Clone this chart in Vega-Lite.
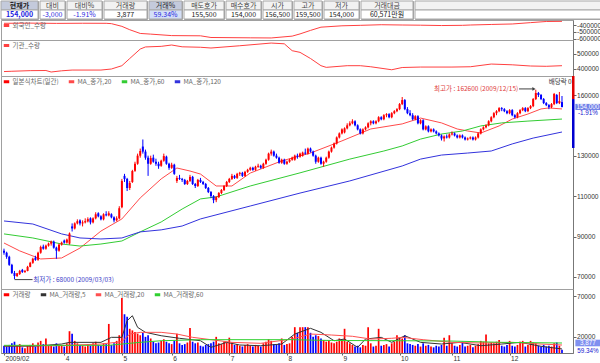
{
"$schema":"https://vega.github.io/schema/vega-lite/v6.json",
"padding":0,"autosize":{"type":"pad"},"spacing":-3,"background":"white",
"config":{
"view":{"stroke":"#a0a0a0","strokeWidth":1},
"axis":{"labelFont":"Liberation Sans","labelFontSize":6.6,"labelColor":"#333","tickColor":"#666","domainColor":"#777","tickSize":3,"labelPadding":0.5,"grid":false,"labelOverlap":false},
"legend":{"orient":"top-left","direction":"horizontal","offset":1,"padding":0,"labelFont":"Noto Sans CJK KR","labelFontSize":6.5,"labelColor":"#666","symbolType":"stroke","symbolStrokeWidth":3,"symbolSize":30,"columnPadding":3,"labelOffset":1.5},
"text":{"font":"Noto Sans CJK KR"}
},
"resolve":{"scale":{"x":"independent","y":"independent","color":"independent"},"legend":{"color":"independent"}},
"datasets":{
"k":[
{"i":0,"o":83000,"h":84000,"l":81000,"c":82000,"v":9000},
{"i":1,"o":82000,"h":82500,"l":79000,"c":80000,"v":8000},
{"i":2,"o":80000,"h":80500,"l":75500,"c":76000,"v":10000},
{"i":3,"o":76000,"h":76500,"l":71500,"c":72000,"v":12000},
{"i":4,"o":72000,"h":73000,"l":69000,"c":70500,"v":14000},
{"i":5,"o":70500,"h":72000,"l":70000,"c":71800,"v":9000},
{"i":6,"o":71500,"h":73500,"l":71000,"c":73000,"v":11000},
{"i":7,"o":73500,"h":74000,"l":72000,"c":72500,"v":7000},
{"i":8,"o":72500,"h":73500,"l":72000,"c":73000,"v":6000},
{"i":9,"o":73000,"h":75500,"l":72800,"c":75000,"v":9000},
{"i":10,"o":75000,"h":77500,"l":74800,"c":77000,"v":10000},
{"i":11,"o":77000,"h":79500,"l":76500,"c":79000,"v":12000},
{"i":12,"o":79500,"h":80500,"l":78000,"c":78500,"v":8000},
{"i":13,"o":78500,"h":82500,"l":78000,"c":82000,"v":13000},
{"i":14,"o":82000,"h":85500,"l":81500,"c":84800,"v":15000},
{"i":15,"o":85000,"h":86000,"l":83500,"c":84000,"v":11000},
{"i":16,"o":84000,"h":86000,"l":83500,"c":85500,"v":18000},
{"i":17,"o":85500,"h":87000,"l":85000,"c":86500,"v":9000},
{"i":18,"o":86500,"h":88000,"l":85500,"c":87500,"v":10000},
{"i":19,"o":87500,"h":88000,"l":84000,"c":84500,"v":8000},
{"i":20,"o":84500,"h":85000,"l":79000,"c":83000,"v":12000},
{"i":21,"o":83000,"h":86500,"l":82500,"c":86000,"v":9000},
{"i":22,"o":86000,"h":87500,"l":85500,"c":87000,"v":10000},
{"i":23,"o":88000,"h":88500,"l":86500,"c":87000,"v":8000},
{"i":24,"o":87000,"h":89000,"l":86500,"c":88500,"v":12000},
{"i":25,"o":86500,"h":92000,"l":86000,"c":91500,"v":27000},
{"i":26,"o":95000,"h":96500,"l":92500,"c":94000,"v":24000},
{"i":27,"o":94000,"h":97000,"l":93500,"c":96500,"v":15000},
{"i":28,"o":96500,"h":98500,"l":96000,"c":97600,"v":12000},
{"i":29,"o":98000,"h":98500,"l":95500,"c":96500,"v":10000},
{"i":30,"o":96500,"h":98000,"l":95000,"c":97000,"v":9000},
{"i":31,"o":97000,"h":99000,"l":96500,"c":97600,"v":8000},
{"i":32,"o":97500,"h":99500,"l":97000,"c":98600,"v":11000},
{"i":33,"o":99000,"h":99500,"l":96000,"c":97000,"v":9000},
{"i":34,"o":97000,"h":99500,"l":96500,"c":99000,"v":12000},
{"i":35,"o":99000,"h":102000,"l":98500,"c":101000,"v":14000},
{"i":36,"o":101500,"h":102000,"l":99500,"c":100000,"v":10000},
{"i":37,"o":100000,"h":100500,"l":98000,"c":98500,"v":9000},
{"i":38,"o":98500,"h":101500,"l":98000,"c":101000,"v":12000},
{"i":39,"o":101000,"h":102500,"l":100000,"c":100500,"v":11000},
{"i":40,"o":100500,"h":102500,"l":100000,"c":101500,"v":36000},
{"i":41,"o":101000,"h":101500,"l":99000,"c":99500,"v":10000},
{"i":42,"o":99500,"h":100000,"l":97000,"c":98000,"v":12000},
{"i":43,"o":98000,"h":100000,"l":97500,"c":99000,"v":15000},
{"i":44,"o":99000,"h":105000,"l":98500,"c":104000,"v":22000},
{"i":45,"o":104500,"h":118500,"l":104000,"c":117500,"v":68000},
{"i":46,"o":120000,"h":121000,"l":117000,"c":118500,"v":48000},
{"i":47,"o":118500,"h":119000,"l":112500,"c":114000,"v":45000},
{"i":48,"o":114000,"h":117500,"l":113000,"c":116500,"v":30000},
{"i":49,"o":117000,"h":123000,"l":116500,"c":122400,"v":28000},
{"i":50,"o":122500,"h":127000,"l":122000,"c":126000,"v":26000},
{"i":51,"o":126000,"h":131000,"l":125500,"c":130000,"v":24000},
{"i":52,"o":130000,"h":133500,"l":129000,"c":132300,"v":22000},
{"i":53,"o":134500,"h":138000,"l":131000,"c":132000,"v":25000},
{"i":54,"o":132000,"h":133000,"l":128000,"c":129000,"v":20000},
{"i":55,"o":129000,"h":130000,"l":120000,"c":126000,"v":22000},
{"i":56,"o":126000,"h":130000,"l":125500,"c":128800,"v":18000},
{"i":57,"o":129000,"h":130500,"l":126500,"c":127000,"v":14000},
{"i":58,"o":127000,"h":128500,"l":125000,"c":126000,"v":12000},
{"i":59,"o":126000,"h":127000,"l":123500,"c":124800,"v":13000},
{"i":60,"o":125000,"h":128000,"l":124500,"c":127500,"v":15000},
{"i":61,"o":127500,"h":131000,"l":127000,"c":129800,"v":17000},
{"i":62,"o":129500,"h":130000,"l":125500,"c":126000,"v":14000},
{"i":63,"o":126000,"h":126500,"l":123000,"c":124000,"v":12000},
{"i":64,"o":124000,"h":126500,"l":123500,"c":125500,"v":11000},
{"i":65,"o":125500,"h":126000,"l":120500,"c":121000,"v":15000},
{"i":66,"o":117500,"h":120000,"l":116500,"c":119000,"v":24000},
{"i":67,"o":119000,"h":120500,"l":118000,"c":118500,"v":12000},
{"i":68,"o":118500,"h":119000,"l":117000,"c":118000,"v":10000},
{"i":69,"o":118000,"h":118500,"l":115500,"c":116000,"v":11000},
{"i":70,"o":116000,"h":118000,"l":115500,"c":117500,"v":13000},
{"i":71,"o":117500,"h":120500,"l":117000,"c":119500,"v":31000},
{"i":72,"o":119500,"h":120000,"l":115500,"c":116000,"v":14000},
{"i":73,"o":116000,"h":116500,"l":114000,"c":115000,"v":12000},
{"i":74,"o":115000,"h":118500,"l":114500,"c":118000,"v":13000},
{"i":75,"o":118000,"h":119000,"l":116500,"c":117000,"v":9000},
{"i":76,"o":117000,"h":117500,"l":115500,"c":116000,"v":8000},
{"i":77,"o":116000,"h":116500,"l":113500,"c":114000,"v":10000},
{"i":78,"o":114000,"h":114500,"l":111500,"c":112000,"v":11000},
{"i":79,"o":112000,"h":112500,"l":109000,"c":110000,"v":12000},
{"i":80,"o":110000,"h":110500,"l":106500,"c":108000,"v":14000},
{"i":81,"o":108000,"h":110000,"l":107000,"c":109500,"v":20000},
{"i":82,"o":109500,"h":112000,"l":109000,"c":111500,"v":12000},
{"i":83,"o":111500,"h":113500,"l":111000,"c":113000,"v":11000},
{"i":84,"o":113000,"h":115500,"l":112500,"c":115000,"v":14000},
{"i":85,"o":115000,"h":117500,"l":114500,"c":117000,"v":13000},
{"i":86,"o":117000,"h":119000,"l":116500,"c":118500,"v":19000},
{"i":87,"o":118500,"h":121000,"l":118000,"c":120000,"v":13000},
{"i":88,"o":120000,"h":120500,"l":118500,"c":119000,"v":10000},
{"i":89,"o":119000,"h":121500,"l":118500,"c":121000,"v":11000},
{"i":90,"o":121000,"h":122000,"l":120000,"c":121500,"v":9000},
{"i":91,"o":121500,"h":122000,"l":119500,"c":120000,"v":8000},
{"i":92,"o":120000,"h":122500,"l":119500,"c":122000,"v":10000},
{"i":93,"o":122000,"h":123500,"l":121500,"c":123000,"v":11000},
{"i":94,"o":123000,"h":124500,"l":122500,"c":124000,"v":9000},
{"i":95,"o":124000,"h":124500,"l":122500,"c":123000,"v":8000},
{"i":96,"o":123000,"h":125000,"l":122500,"c":124500,"v":10000},
{"i":97,"o":124500,"h":126000,"l":124000,"c":125000,"v":9000},
{"i":98,"o":125000,"h":125500,"l":123500,"c":124000,"v":8000},
{"i":99,"o":124000,"h":126500,"l":123500,"c":126000,"v":12000},
{"i":100,"o":126000,"h":128500,"l":125500,"c":128000,"v":14000},
{"i":101,"o":128000,"h":131500,"l":127500,"c":131000,"v":17000},
{"i":102,"o":131000,"h":133000,"l":130000,"c":132000,"v":15000},
{"i":103,"o":132000,"h":132500,"l":129500,"c":130000,"v":11000},
{"i":104,"o":130000,"h":131000,"l":128500,"c":129000,"v":10000},
{"i":105,"o":129000,"h":129500,"l":126000,"c":126500,"v":12000},
{"i":106,"o":126500,"h":128500,"l":126000,"c":128000,"v":18000},
{"i":107,"o":128000,"h":128500,"l":125500,"c":126000,"v":10000},
{"i":108,"o":126000,"h":127500,"l":125500,"c":127000,"v":11000},
{"i":109,"o":127000,"h":128500,"l":126500,"c":128000,"v":12000},
{"i":110,"o":128000,"h":129500,"l":127500,"c":129000,"v":20000},
{"i":111,"o":128000,"h":130500,"l":127500,"c":130000,"v":32000},
{"i":112,"o":130000,"h":131000,"l":128500,"c":129500,"v":25000},
{"i":113,"o":129500,"h":131500,"l":129000,"c":131000,"v":32000},
{"i":114,"o":130000,"h":132000,"l":129500,"c":131500,"v":32000},
{"i":115,"o":131500,"h":133500,"l":130500,"c":131000,"v":32000},
{"i":116,"o":131000,"h":134000,"l":130500,"c":133500,"v":32000},
{"i":117,"o":133500,"h":134000,"l":131500,"c":132000,"v":25000},
{"i":118,"o":132000,"h":132500,"l":129500,"c":130000,"v":20000},
{"i":119,"o":130000,"h":130500,"l":126000,"c":127000,"v":22000},
{"i":120,"o":127000,"h":129500,"l":126500,"c":129000,"v":21000},
{"i":121,"o":129000,"h":129500,"l":125500,"c":126000,"v":18000},
{"i":122,"o":126000,"h":127500,"l":124500,"c":127000,"v":16000},
{"i":123,"o":127000,"h":129500,"l":126500,"c":129000,"v":14000},
{"i":124,"o":129000,"h":132500,"l":128500,"c":132000,"v":15000},
{"i":125,"o":132000,"h":134500,"l":131500,"c":134000,"v":13000},
{"i":126,"o":134000,"h":136500,"l":133500,"c":136000,"v":12000},
{"i":127,"o":136000,"h":139500,"l":135500,"c":139000,"v":14000},
{"i":128,"o":139000,"h":141500,"l":138500,"c":141000,"v":18000},
{"i":129,"o":141000,"h":143500,"l":140500,"c":143000,"v":16000},
{"i":130,"o":141500,"h":144000,"l":141000,"c":143500,"v":30000},
{"i":131,"o":143500,"h":146000,"l":143000,"c":145000,"v":14000},
{"i":132,"o":145000,"h":147000,"l":144500,"c":146000,"v":12000},
{"i":133,"o":146000,"h":148000,"l":145500,"c":147000,"v":10000},
{"i":134,"o":147000,"h":147500,"l":144500,"c":145000,"v":8000},
{"i":135,"o":145000,"h":145500,"l":142500,"c":143000,"v":9000},
{"i":136,"o":143000,"h":143500,"l":140500,"c":141000,"v":7000},
{"i":137,"o":141000,"h":143500,"l":140500,"c":143000,"v":10000},
{"i":138,"o":143000,"h":144500,"l":142500,"c":144000,"v":9000},
{"i":139,"o":144000,"h":146500,"l":143500,"c":146000,"v":32000},
{"i":140,"o":146000,"h":147500,"l":145000,"c":147000,"v":12000},
{"i":141,"o":147000,"h":147500,"l":145500,"c":146000,"v":8000},
{"i":142,"o":146000,"h":147500,"l":145500,"c":147000,"v":9000},
{"i":143,"o":147000,"h":149500,"l":146500,"c":149000,"v":30000},
{"i":144,"o":149000,"h":149500,"l":147500,"c":148000,"v":9000},
{"i":145,"o":148000,"h":150500,"l":147500,"c":150000,"v":10000},
{"i":146,"o":150000,"h":151000,"l":149000,"c":150500,"v":11000},
{"i":147,"o":150500,"h":151000,"l":148500,"c":149000,"v":8000},
{"i":148,"o":149000,"h":151500,"l":148500,"c":151000,"v":12000},
{"i":149,"o":151000,"h":152500,"l":150500,"c":152000,"v":14000},
{"i":150,"o":152000,"h":153500,"l":151500,"c":153000,"v":22000},
{"i":151,"o":153000,"h":156000,"l":152500,"c":155500,"v":18000},
{"i":152,"o":155500,"h":159000,"l":155000,"c":157500,"v":18000},
{"i":153,"o":157500,"h":158000,"l":152500,"c":153000,"v":22000},
{"i":154,"o":153000,"h":154000,"l":150500,"c":151000,"v":12000},
{"i":155,"o":151000,"h":152500,"l":149500,"c":150000,"v":11000},
{"i":156,"o":150000,"h":151000,"l":147500,"c":148000,"v":10000},
{"i":157,"o":148000,"h":150000,"l":147500,"c":149500,"v":9000},
{"i":158,"o":149500,"h":150000,"l":145500,"c":146000,"v":11000},
{"i":159,"o":146000,"h":148000,"l":145500,"c":147500,"v":8000},
{"i":160,"o":147500,"h":148000,"l":142500,"c":143000,"v":12000},
{"i":161,"o":143000,"h":145000,"l":142500,"c":144500,"v":9000},
{"i":162,"o":144500,"h":145000,"l":141500,"c":142000,"v":10000},
{"i":163,"o":142000,"h":143500,"l":141500,"c":143000,"v":8000},
{"i":164,"o":143000,"h":143500,"l":141500,"c":142000,"v":7000},
{"i":165,"o":142000,"h":142500,"l":140500,"c":141000,"v":9000},
{"i":166,"o":141000,"h":141500,"l":139500,"c":140000,"v":8000},
{"i":167,"o":140000,"h":140500,"l":137500,"c":138500,"v":10000},
{"i":168,"o":138500,"h":140000,"l":137000,"c":139500,"v":19000},
{"i":169,"o":139500,"h":140500,"l":138500,"c":139000,"v":9000},
{"i":170,"o":139000,"h":141000,"l":138500,"c":140500,"v":22000},
{"i":171,"o":140500,"h":142000,"l":140000,"c":141000,"v":12000},
{"i":172,"o":141000,"h":141500,"l":139500,"c":140000,"v":9000},
{"i":173,"o":140000,"h":140500,"l":138500,"c":139000,"v":8000},
{"i":174,"o":139000,"h":140500,"l":138500,"c":140000,"v":10000},
{"i":175,"o":140000,"h":140500,"l":138500,"c":139000,"v":14000},
{"i":176,"o":139000,"h":139500,"l":137500,"c":138000,"v":8000},
{"i":177,"o":138000,"h":139000,"l":137500,"c":138500,"v":9000},
{"i":178,"o":138500,"h":139500,"l":138000,"c":139000,"v":10000},
{"i":179,"o":139000,"h":139500,"l":137500,"c":138000,"v":7000},
{"i":180,"o":138000,"h":139500,"l":137500,"c":139000,"v":9000},
{"i":181,"o":139000,"h":141500,"l":138500,"c":141000,"v":11000},
{"i":182,"o":141000,"h":143500,"l":140500,"c":143000,"v":15000},
{"i":183,"o":143000,"h":144500,"l":142500,"c":144000,"v":14000},
{"i":184,"o":144000,"h":145500,"l":143500,"c":145000,"v":23000},
{"i":185,"o":145000,"h":147500,"l":144500,"c":147000,"v":12000},
{"i":186,"o":147000,"h":149500,"l":146500,"c":149000,"v":13000},
{"i":187,"o":149000,"h":151500,"l":148500,"c":151000,"v":12000},
{"i":188,"o":151000,"h":152500,"l":150000,"c":152000,"v":14000},
{"i":189,"o":152000,"h":154000,"l":151500,"c":153500,"v":16000},
{"i":190,"o":153500,"h":154000,"l":152000,"c":153000,"v":9000},
{"i":191,"o":153000,"h":153500,"l":151500,"c":152000,"v":8000},
{"i":192,"o":152000,"h":152500,"l":150500,"c":151000,"v":10000},
{"i":193,"o":151000,"h":153000,"l":150500,"c":152500,"v":15000},
{"i":194,"o":152500,"h":153000,"l":149500,"c":150000,"v":9000},
{"i":195,"o":150000,"h":150500,"l":148500,"c":149000,"v":8000},
{"i":196,"o":149000,"h":151500,"l":148500,"c":151000,"v":10000},
{"i":197,"o":151000,"h":153000,"l":150500,"c":152500,"v":14000},
{"i":198,"o":152500,"h":154000,"l":152000,"c":153500,"v":15000},
{"i":199,"o":153500,"h":154000,"l":151500,"c":152000,"v":8000},
{"i":200,"o":152000,"h":154000,"l":151500,"c":153500,"v":10000},
{"i":201,"o":153500,"h":155000,"l":153000,"c":154500,"v":15000},
{"i":202,"o":154500,"h":158500,"l":154000,"c":158000,"v":13000},
{"i":203,"o":158000,"h":162600,"l":157500,"c":161000,"v":12000},
{"i":204,"o":161000,"h":161500,"l":159000,"c":160000,"v":9000},
{"i":205,"o":160000,"h":160500,"l":157500,"c":158000,"v":8000},
{"i":206,"o":158000,"h":158500,"l":155500,"c":156000,"v":10000},
{"i":207,"o":156000,"h":156500,"l":154500,"c":155000,"v":8000},
{"i":208,"o":155000,"h":155500,"l":153000,"c":154000,"v":9000},
{"i":209,"o":154000,"h":156000,"l":153500,"c":155500,"v":8000},
{"i":210,"o":155500,"h":161000,"l":155000,"c":160500,"v":12000},
{"i":211,"o":160000,"h":160500,"l":155500,"c":156000,"v":13000},
{"i":212,"o":156000,"h":161500,"l":155500,"c":157000,"v":9000},
{"i":213,"o":156500,"h":159500,"l":154000,"c":154000,"v":3877}
],
"ma":[
{"i":0,"s":"MA_종가,20","p":86800},{"i":6,"s":"MA_종가,20","p":82900},{"i":14,"s":"MA_종가,20","p":78900},{"i":22,"s":"MA_종가,20","p":79400},{"i":29,"s":"MA_종가,20","p":84300},{"i":37,"s":"MA_종가,20","p":92700},{"i":45,"s":"MA_종가,20","p":98700},{"i":52,"s":"MA_종가,20","p":109100},{"i":60,"s":"MA_종가,20","p":118500},{"i":66,"s":"MA_종가,20","p":123900},{"i":71,"s":"MA_종가,20","p":122400},{"i":75,"s":"MA_종가,20","p":120900},{"i":81,"s":"MA_종가,20","p":115000},{"i":87,"s":"MA_종가,20","p":115000},{"i":94,"s":"MA_종가,20","p":121400},{"i":106,"s":"MA_종가,20","p":127400},{"i":117,"s":"MA_종가,20","p":131300},{"i":129,"s":"MA_종가,20","p":137300},{"i":140,"s":"MA_종가,20","p":143200},{"i":152,"s":"MA_종가,20","p":145700},{"i":159,"s":"MA_종가,20","p":148600},{"i":167,"s":"MA_종가,20","p":146200},{"i":173,"s":"MA_종가,20","p":143200},{"i":177,"s":"MA_종가,20","p":142200},{"i":182,"s":"MA_종가,20","p":141200},{"i":189,"s":"MA_종가,20","p":144700},{"i":194,"s":"MA_종가,20","p":148100},{"i":200,"s":"MA_종가,20","p":150600},{"i":205,"s":"MA_종가,20","p":153100},{"i":208,"s":"MA_종가,20","p":153600},{"i":213,"s":"MA_종가,20","p":153100},
{"i":0,"s":"MA_종가,60","p":91300},{"i":11,"s":"MA_종가,60","p":89300},{"i":22,"s":"MA_종가,60","p":86300},{"i":29,"s":"MA_종가,60","p":85300},{"i":37,"s":"MA_종가,60","p":86300},{"i":45,"s":"MA_종가,60","p":87800},{"i":52,"s":"MA_종가,60","p":92300},{"i":60,"s":"MA_종가,60","p":97200},{"i":68,"s":"MA_종가,60","p":103600},{"i":75,"s":"MA_종가,60","p":108600},{"i":81,"s":"MA_종가,60","p":109600},{"i":94,"s":"MA_종가,60","p":115000},{"i":113,"s":"MA_종가,60","p":121500},{"i":132,"s":"MA_종가,60","p":128300},{"i":145,"s":"MA_종가,60","p":132300},{"i":152,"s":"MA_종가,60","p":134800},{"i":159,"s":"MA_종가,60","p":138200},{"i":167,"s":"MA_종가,60","p":140700},{"i":175,"s":"MA_종가,60","p":142200},{"i":182,"s":"MA_종가,60","p":144700},{"i":190,"s":"MA_종가,60","p":146200},{"i":200,"s":"MA_종가,60","p":147100},{"i":213,"s":"MA_종가,60","p":148100},
{"i":0,"s":"MA_종가,120","p":97700},{"i":11,"s":"MA_종가,120","p":96200},{"i":22,"s":"MA_종가,120","p":91300},{"i":29,"s":"MA_종가,120","p":89300},{"i":37,"s":"MA_종가,120","p":88800},{"i":45,"s":"MA_종가,120","p":89300},{"i":52,"s":"MA_종가,120","p":92300},{"i":60,"s":"MA_종가,120","p":93300},{"i":68,"s":"MA_종가,120","p":95200},{"i":75,"s":"MA_종가,120","p":98700},{"i":94,"s":"MA_종가,120","p":105100},{"i":113,"s":"MA_종가,120","p":111500},{"i":132,"s":"MA_종가,120","p":117500},{"i":152,"s":"MA_종가,120","p":124900},{"i":159,"s":"MA_종가,120","p":128300},{"i":167,"s":"MA_종가,120","p":130300},{"i":177,"s":"MA_종가,120","p":131300},{"i":186,"s":"MA_종가,120","p":132300},{"i":194,"s":"MA_종가,120","p":135800},{"i":202,"s":"MA_종가,120","p":138700},{"i":213,"s":"MA_종가,120","p":141700}
],
"vma":[
{"i":0,"s":"MA_거래량,5","v":8300},{"i":12,"s":"MA_거래량,5","v":8500},{"i":22,"s":"MA_거래량,5","v":11100},{"i":25,"s":"MA_거래량,5","v":13200},{"i":37,"s":"MA_거래량,5","v":13200},{"i":41,"s":"MA_거래량,5","v":19400},{"i":45,"s":"MA_거래량,5","v":19400},{"i":47,"s":"MA_거래량,5","v":40000},{"i":49,"s":"MA_거래량,5","v":46200},{"i":51,"s":"MA_거래량,5","v":31800},{"i":54,"s":"MA_거래량,5","v":25600},{"i":60,"s":"MA_거래량,5","v":21400},{"i":67,"s":"MA_거래량,5","v":18200},{"i":75,"s":"MA_거래량,5","v":15200},{"i":79,"s":"MA_거래량,5","v":7000},{"i":85,"s":"MA_거래량,5","v":13200},{"i":90,"s":"MA_거래량,5","v":9900},{"i":98,"s":"MA_거래량,5","v":9000},{"i":106,"s":"MA_거래량,5","v":11100},{"i":111,"s":"MA_거래량,5","v":23500},{"i":117,"s":"MA_거래량,5","v":30600},{"i":121,"s":"MA_거래량,5","v":25600},{"i":126,"s":"MA_거래량,5","v":15200},{"i":130,"s":"MA_거래량,5","v":17300},{"i":135,"s":"MA_거래량,5","v":7000},{"i":138,"s":"MA_거래량,5","v":17300},{"i":144,"s":"MA_거래량,5","v":19400},{"i":148,"s":"MA_거래량,5","v":13200},{"i":153,"s":"MA_거래량,5","v":21400},{"i":159,"s":"MA_거래량,5","v":13200},{"i":167,"s":"MA_거래량,5","v":11100},{"i":174,"s":"MA_거래량,5","v":13200},{"i":182,"s":"MA_거래량,5","v":9000},{"i":190,"s":"MA_거래량,5","v":11100},{"i":197,"s":"MA_거래량,5","v":13200},{"i":205,"s":"MA_거래량,5","v":8300},{"i":213,"s":"MA_거래량,5","v":5000},
{"i":0,"s":"MA_거래량,20","v":9000},{"i":20,"s":"MA_거래량,20","v":9000},{"i":37,"s":"MA_거래량,20","v":11100},{"i":45,"s":"MA_거래량,20","v":14000},{"i":48,"s":"MA_거래량,20","v":23500},{"i":52,"s":"MA_거래량,20","v":25600},{"i":60,"s":"MA_거래량,20","v":25600},{"i":66,"s":"MA_거래량,20","v":23500},{"i":72,"s":"MA_거래량,20","v":19400},{"i":79,"s":"MA_거래량,20","v":16500},{"i":87,"s":"MA_거래량,20","v":13200},{"i":98,"s":"MA_거래량,20","v":12000},{"i":110,"s":"MA_거래량,20","v":17300},{"i":117,"s":"MA_거래량,20","v":23500},{"i":125,"s":"MA_거래량,20","v":22300},{"i":133,"s":"MA_거래량,20","v":20700},{"i":140,"s":"MA_거래량,20","v":17300},{"i":148,"s":"MA_거래량,20","v":18200},{"i":152,"s":"MA_거래량,20","v":19400},{"i":160,"s":"MA_거래량,20","v":16500},{"i":171,"s":"MA_거래량,20","v":13200},{"i":182,"s":"MA_거래량,20","v":12400},{"i":194,"s":"MA_거래량,20","v":13200},{"i":205,"s":"MA_거래량,20","v":11100},{"i":213,"s":"MA_거래량,20","v":9900},
{"i":0,"s":"MA_거래량,60","v":9500},{"i":40,"s":"MA_거래량,60","v":9500},{"i":45,"s":"MA_거래량,60","v":11100},{"i":52,"s":"MA_거래량,60","v":13200},{"i":60,"s":"MA_거래량,60","v":15200},{"i":75,"s":"MA_거래량,60","v":16500},{"i":110,"s":"MA_거래량,60","v":16500},{"i":125,"s":"MA_거래량,60","v":15500},{"i":152,"s":"MA_거래량,60","v":15200},{"i":171,"s":"MA_거래량,60","v":14800},{"i":190,"s":"MA_거래량,60","v":13200},{"i":213,"s":"MA_거래량,60","v":12400}
],
"frg":[
{"i":0,"q":-375000},{"i":10,"q":-372000},{"i":20,"q":-376000},{"i":30,"q":-374000},{"i":39,"q":-375000},{"i":41,"q":-380000},{"i":45,"q":-420000},{"i":48,"q":-470000},{"i":52,"q":-525000},{"i":56,"q":-535000},{"i":64,"q":-557000},{"i":75,"q":-560000},{"i":79,"q":-585000},{"i":94,"q":-590000},{"i":102,"q":-592000},{"i":110,"q":-565000},{"i":113,"q":-532000},{"i":117,"q":-480000},{"i":121,"q":-432000},{"i":129,"q":-412000},{"i":136,"q":-405000},{"i":144,"q":-396000},{"i":152,"q":-400000},{"i":159,"q":-403000},{"i":167,"q":-408000},{"i":175,"q":-405000},{"i":178,"q":-400000},{"i":186,"q":-392000},{"i":194,"q":-385000},{"i":201,"q":-365000},{"i":207,"q":-348000},{"i":213,"q":-346000}
],
"ins":[
{"i":0,"q":383000},{"i":3,"q":385000},{"i":10,"q":389000},{"i":16,"q":390000},{"i":18,"q":380000},{"i":22,"q":388000},{"i":26,"q":393000},{"i":37,"q":393000},{"i":41,"q":400000},{"i":45,"q":422000},{"i":48,"q":470000},{"i":52,"q":533000},{"i":54,"q":547000},{"i":60,"q":551000},{"i":64,"q":560000},{"i":68,"q":548000},{"i":75,"q":545000},{"i":79,"q":540000},{"i":90,"q":555000},{"i":102,"q":573000},{"i":107,"q":568000},{"i":110,"q":522000},{"i":113,"q":511000},{"i":117,"q":470000},{"i":121,"q":422000},{"i":123,"q":411000},{"i":131,"q":422000},{"i":136,"q":422000},{"i":140,"q":415000},{"i":148,"q":395000},{"i":152,"q":410000},{"i":159,"q":413000},{"i":171,"q":413000},{"i":178,"q":415000},{"i":186,"q":433000},{"i":194,"q":428000},{"i":201,"q":420000},{"i":207,"q":418000},{"i":213,"q":422000}
]
},
"vconcat":[
{"hconcat":[
{"width":37,"height":18,"data":{"values":[{"r":"a","t":"현재가"},{"r":"b","t":"154,000"}]},"encoding":{"y":{"field":"r","type":"nominal","axis":null,"scale":{"domain":["a","b"],"padding":0}}},"layer":[{"mark":{"type":"rect","stroke":"#a8a8a8","strokeWidth":1},"encoding":{"fill":{"condition":{"test":"datum.r=='a'","value":"#c4cadc"},"value":"#ffffff"}}},{"mark":{"type":"text","fontSize":7,"fontWeight":"bold"},"encoding":{"text":{"field":"t"},"color":{"condition":{"test":"datum.r=='a'","value":"#222"},"value":"#1a1ae0"}}}]},
{"width":25,"height":18,"data":{"values":[{"r":"a","t":"대비"},{"r":"b","t":"-3,000"}]},"encoding":{"y":{"field":"r","type":"nominal","axis":null,"scale":{"domain":["a","b"],"padding":0}}},"layer":[{"mark":{"type":"rect","stroke":"#a8a8a8","strokeWidth":1},"encoding":{"fill":{"condition":{"test":"datum.r=='a'","value":"#f2f2f2"},"value":"#ffffff"}}},{"mark":{"type":"text","fontSize":7},"encoding":{"text":{"field":"t"},"color":{"condition":{"test":"datum.r=='a'","value":"#444"},"value":"#2a2ae0"}}}]},
{"width":35,"height":18,"data":{"values":[{"r":"a","t":"대비%"},{"r":"b","t":"-1.91%"}]},"encoding":{"y":{"field":"r","type":"nominal","axis":null,"scale":{"domain":["a","b"],"padding":0}}},"layer":[{"mark":{"type":"rect","stroke":"#a8a8a8","strokeWidth":1},"encoding":{"fill":{"condition":{"test":"datum.r=='a'","value":"#f2f2f2"},"value":"#ffffff"}}},{"mark":{"type":"text","fontSize":7},"encoding":{"text":{"field":"t"},"color":{"condition":{"test":"datum.r=='a'","value":"#444"},"value":"#2a2ae0"}}}]},
{"width":43,"height":18,"data":{"values":[{"r":"a","t":"거래량"},{"r":"b","t":"3,877"}]},"encoding":{"y":{"field":"r","type":"nominal","axis":null,"scale":{"domain":["a","b"],"padding":0}}},"layer":[{"mark":{"type":"rect","stroke":"#a8a8a8","strokeWidth":1},"encoding":{"fill":{"condition":{"test":"datum.r=='a'","value":"#f2f2f2"},"value":"#ffffff"}}},{"mark":{"type":"text","fontSize":7},"encoding":{"text":{"field":"t"},"color":{"condition":{"test":"datum.r=='a'","value":"#444"},"value":"#222"}}}]},
{"width":33,"height":18,"data":{"values":[{"r":"a","t":"거래%"},{"r":"b","t":"59.34%"}]},"encoding":{"y":{"field":"r","type":"nominal","axis":null,"scale":{"domain":["a","b"],"padding":0}}},"layer":[{"mark":{"type":"rect","stroke":"#a8a8a8","strokeWidth":1},"encoding":{"fill":{"condition":{"test":"datum.r=='a'","value":"#c4cadc"},"value":"#d4dff7"}}},{"mark":{"type":"text","fontSize":7},"encoding":{"text":{"field":"t"},"color":{"condition":{"test":"datum.r=='a'","value":"#222"},"value":"#2a2ae0"}}}]},
{"width":40,"height":18,"data":{"values":[{"r":"a","t":"매도호가"},{"r":"b","t":"155,500"}]},"encoding":{"y":{"field":"r","type":"nominal","axis":null,"scale":{"domain":["a","b"],"padding":0}}},"layer":[{"mark":{"type":"rect","stroke":"#a8a8a8","strokeWidth":1},"encoding":{"fill":{"condition":{"test":"datum.r=='a'","value":"#f2f2f2"},"value":"#ffffff"}}},{"mark":{"type":"text","fontSize":7},"encoding":{"text":{"field":"t"},"color":{"condition":{"test":"datum.r=='a'","value":"#444"},"value":"#222"}}}]},
{"width":35,"height":18,"data":{"values":[{"r":"a","t":"매수호가"},{"r":"b","t":"154,000"}]},"encoding":{"y":{"field":"r","type":"nominal","axis":null,"scale":{"domain":["a","b"],"padding":0}}},"layer":[{"mark":{"type":"rect","stroke":"#a8a8a8","strokeWidth":1},"encoding":{"fill":{"condition":{"test":"datum.r=='a'","value":"#f2f2f2"},"value":"#ffffff"}}},{"mark":{"type":"text","fontSize":7},"encoding":{"text":{"field":"t"},"color":{"condition":{"test":"datum.r=='a'","value":"#444"},"value":"#222"}}}]},
{"width":29,"height":18,"data":{"values":[{"r":"a","t":"시가"},{"r":"b","t":"156,500"}]},"encoding":{"y":{"field":"r","type":"nominal","axis":null,"scale":{"domain":["a","b"],"padding":0}}},"layer":[{"mark":{"type":"rect","stroke":"#a8a8a8","strokeWidth":1},"encoding":{"fill":{"condition":{"test":"datum.r=='a'","value":"#f2f2f2"},"value":"#ffffff"}}},{"mark":{"type":"text","fontSize":7},"encoding":{"text":{"field":"t"},"color":{"condition":{"test":"datum.r=='a'","value":"#444"},"value":"#222"}}}]},
{"width":28,"height":18,"data":{"values":[{"r":"a","t":"고가"},{"r":"b","t":"159,500"}]},"encoding":{"y":{"field":"r","type":"nominal","axis":null,"scale":{"domain":["a","b"],"padding":0}}},"layer":[{"mark":{"type":"rect","stroke":"#a8a8a8","strokeWidth":1},"encoding":{"fill":{"condition":{"test":"datum.r=='a'","value":"#f2f2f2"},"value":"#ffffff"}}},{"mark":{"type":"text","fontSize":7},"encoding":{"text":{"field":"t"},"color":{"condition":{"test":"datum.r=='a'","value":"#444"},"value":"#222"}}}]},
{"width":35,"height":18,"data":{"values":[{"r":"a","t":"저가"},{"r":"b","t":"154,000"}]},"encoding":{"y":{"field":"r","type":"nominal","axis":null,"scale":{"domain":["a","b"],"padding":0}}},"layer":[{"mark":{"type":"rect","stroke":"#a8a8a8","strokeWidth":1},"encoding":{"fill":{"condition":{"test":"datum.r=='a'","value":"#f2f2f2"},"value":"#ffffff"}}},{"mark":{"type":"text","fontSize":7},"encoding":{"text":{"field":"t"},"color":{"condition":{"test":"datum.r=='a'","value":"#444"},"value":"#222"}}}]},
{"width":52,"height":18,"data":{"values":[{"r":"a","t":"거래대금"},{"r":"b","t":"60,571만원"}]},"encoding":{"y":{"field":"r","type":"nominal","axis":null,"scale":{"domain":["a","b"],"padding":0}}},"layer":[{"mark":{"type":"rect","stroke":"#a8a8a8","strokeWidth":1},"encoding":{"fill":{"condition":{"test":"datum.r=='a'","value":"#f2f2f2"},"value":"#ffffff"}}},{"mark":{"type":"text","fontSize":7},"encoding":{"text":{"field":"t"},"color":{"condition":{"test":"datum.r=='a'","value":"#444"},"value":"#222"}}}]},
{"width":208,"height":18,"data":{"values":[{"r":"a","t":""},{"r":"b","t":""}]},"encoding":{"y":{"field":"r","type":"nominal","axis":null,"scale":{"domain":["a","b"],"padding":0}}},"layer":[{"mark":{"type":"rect","stroke":"#a8a8a8","strokeWidth":1},"encoding":{"fill":{"condition":{"test":"datum.r=='a'","value":"#f2f2f2"},"value":"#ffffff"}}}]}
],"spacing":0,"resolve":{"scale":{"y":"independent","fill":"independent","color":"independent"}}},
{"vconcat":[
{"width":572,"height":20,"data":{"name":"frg"},
"mark":{"type":"line","strokeWidth":1},
"encoding":{
"x":{"field":"i","type":"quantitative","scale":{"domain":[-1.145,217.2],"nice":false,"zero":false},"axis":null},
"y":{"field":"q","type":"quantitative","scale":{"domain":[-622222,-325926],"nice":false,"zero":false},"axis":{"orient":"right","values":[-400000,-500000,-600000],"labelExpr":"'-' + format(abs(datum.value),'d')","title":null}},
"color":{"datum":"외국인_수량","type":"nominal","scale":{"domain":["외국인_수량"],"range":["#ff4040"]},"title":null}
}},
{"width":572,"height":36,"data":{"name":"ins"},
"mark":{"type":"line","strokeWidth":1},
"encoding":{
"x":{"field":"i","type":"quantitative","scale":{"domain":[-1.145,217.2],"nice":false,"zero":false},"axis":null},
"y":{"field":"q","type":"quantitative","scale":{"domain":[353333,593333],"nice":false,"zero":false},"axis":{"orient":"right","values":[400000,500000],"format":"d","title":null}},
"color":{"datum":"기관_수량","type":"nominal","scale":{"domain":["기관_수량"],"range":["#ff4040"]},"title":null}
}},
{"width":572,"height":213,
"layer":[
{"data":{"name":"ma"},"mark":{"type":"line","strokeWidth":1},
"encoding":{
"x":{"field":"i","type":"quantitative","scale":{"domain":[-1.145,217.2],"nice":false,"zero":false},"axis":null},
"y":{"field":"p","type":"quantitative","scale":{"domain":[64055,169397],"nice":false,"zero":false},"axis":{"orient":"right","values":[70000,80000,90000,100000,110000,120000,130000,140000,160000],"format":"d","title":null}},
"color":{"field":"s","type":"nominal","scale":{"domain":["일본식차트(일간)","MA_종가,20","MA_종가,60","MA_종가,120"],"range":["#ff0000","#ff4a4a","#33cc33","#3333dd"]},"title":null}
}},
{"data":{"name":"k"},"mark":{"type":"rule","strokeWidth":1},
"encoding":{
"x":{"field":"i","type":"quantitative"},
"y":{"field":"l","type":"quantitative"},"y2":{"field":"h"},
"color":{"condition":{"test":"datum.c<datum.o","value":"#0000ff"},"datum":"일본식차트(일간)","type":"nominal"}
}},
{"data":{"name":"k"},"mark":{"type":"rule","strokeWidth":2},
"encoding":{
"x":{"field":"i","type":"quantitative"},
"y":{"field":"o","type":"quantitative"},"y2":{"field":"c"},
"color":{"condition":{"test":"datum.c<datum.o","value":"#0000ff"},"datum":"일본식차트(일간)","type":"nominal"}
}},
{"data":{"values":[{}]},"mark":{"type":"text","align":"right","fontSize":6.5,"color":"#e03c3c"},
"encoding":{"x":{"datum":196.3,"type":"quantitative"},"y":{"datum":163000,"type":"quantitative"},"text":{"value":"최고가 : 162600 (2009/12/15)"}}},
{"data":{"values":[{}]},"mark":{"type":"rule","color":"#404040","strokeWidth":1},
"encoding":{"x":{"datum":196.6,"type":"quantitative"},"x2":{"datum":202.0},"y":{"datum":163000,"type":"quantitative"}}},
{"data":{"values":[{}]},"mark":{"type":"point","shape":"triangle-right","filled":true,"size":14,"color":"#404040","opacity":1},
"encoding":{"x":{"datum":202.3,"type":"quantitative"},"y":{"datum":163000,"type":"quantitative"}}},
{"data":{"values":[{}]},"mark":{"type":"text","align":"left","fontSize":6.5,"color":"#3c3cc8"},
"encoding":{"x":{"datum":11.2,"type":"quantitative"},"y":{"datum":68700,"type":"quantitative"},"text":{"value":"최저가 : 68000 (2009/03/03)"}}},
{"data":{"values":[{}]},"mark":{"type":"rule","color":"#404040","strokeWidth":1},
"encoding":{"x":{"datum":4,"type":"quantitative"},"x2":{"datum":10.9},"y":{"datum":68700,"type":"quantitative"}}},
{"data":{"values":[{}]},"mark":{"type":"text","align":"right","fontSize":6.5,"color":"#333333"},
"encoding":{"x":{"datum":216.7,"type":"quantitative"},"y":{"datum":166600,"type":"quantitative"},"text":{"value":"배당락 0"}}},
{"data":{"values":[{}]},"mark":{"type":"rule","color":"#e00000","strokeWidth":2.5},
"encoding":{"x":{"datum":217.3,"type":"quantitative"},"y":{"datum":169397,"type":"quantitative"},"y2":{"datum":158000}}},
{"data":{"values":[{}]},"mark":{"type":"rule","color":"#0000d0","strokeWidth":2.5},
"encoding":{"x":{"datum":217.3,"type":"quantitative"},"y":{"datum":158000,"type":"quantitative"},"y2":{"datum":133800}}},
{"data":{"values":[{}]},"mark":{"type":"rect","color":"#7080e8"},
"encoding":{"x":{"datum":218.1,"type":"quantitative"},"x2":{"datum":227.8},"y":{"datum":155600,"type":"quantitative"},"y2":{"datum":152600}}},
{"data":{"values":[{}]},"mark":{"type":"text","align":"center","fontSize":6.3,"color":"#ffffff","font":"Liberation Sans"},
"encoding":{"x":{"datum":222.9,"type":"quantitative"},"y":{"datum":154100,"type":"quantitative"},"text":{"value":"154,000"}}},
{"data":{"values":[{}]},"mark":{"type":"text","align":"center","fontSize":6.3,"color":"#2020d0","font":"Liberation Sans"},
"encoding":{"x":{"datum":222.9,"type":"quantitative"},"y":{"datum":150900,"type":"quantitative"},"text":{"value":"-1.91%"}}}
]},
{"width":572,"height":64,
"layer":[
{"data":{"name":"k"},"mark":{"type":"rule","strokeWidth":1.7},
"encoding":{
"x":{"field":"i","type":"quantitative","scale":{"domain":[-1.145,217.2],"nice":false,"zero":false},
"axis":{"orient":"bottom","values":[0,23,45,64,86,108,129,151,171,193],"labelExpr":"datum.value==0?'2009/02':datum.value==23?'4':datum.value==45?'5':datum.value==64?'6':datum.value==86?'7':datum.value==108?'8':datum.value==129?'9':datum.value==151?'10':datum.value==171?'11':'12'","labelAlign":"left","labelOffset":1,"labelFlush":false,"tickSize":2,"labelPadding":0,"title":null}},
"y":{"field":"v","type":"quantitative","scale":{"domain":[0,79292],"nice":false,"zero":false},"axis":{"orient":"right","values":[20000,30000,40000,50000,60000,70000],"format":"d","title":null}},
"y2":{"datum":0},
"color":{"condition":{"test":"datum.c<datum.o","value":"#0000ff"},"datum":"거래량","type":"nominal","scale":{"domain":["거래량","MA_거래량,5","MA_거래량,20","MA_거래량,60"],"range":["#ff0000","#333333","#ff5050","#30d030"]},"title":null}
}},
{"data":{"name":"vma"},"mark":{"type":"line","strokeWidth":1},
"encoding":{
"x":{"field":"i","type":"quantitative"},
"y":{"field":"v","type":"quantitative"},
"color":{"field":"s","type":"nominal"}
}},
{"data":{"values":[{}]},"mark":{"type":"rect","color":"#8090f0"},
"encoding":{"x":{"datum":218.1,"type":"quantitative"},"x2":{"datum":227.8},"y":{"datum":16500,"type":"quantitative"},"y2":{"datum":8300}}},
{"data":{"values":[{}]},"mark":{"type":"text","align":"center","fontSize":6.3,"color":"#ffffff","font":"Liberation Sans"},
"encoding":{"x":{"datum":222.9,"type":"quantitative"},"y":{"datum":12400,"type":"quantitative"},"text":{"value":"3,877"}}},
{"data":{"values":[{}]},"mark":{"type":"text","align":"center","fontSize":6.3,"color":"#2020d0","font":"Liberation Sans"},
"encoding":{"x":{"datum":222.9,"type":"quantitative"},"y":{"datum":2500,"type":"quantitative"},"text":{"value":"59.34%"}}}
]}
],"spacing":0,"bounds":"flush","resolve":{"scale":{"x":"independent","y":"independent","color":"independent"},"legend":{"color":"independent"}}}
]
}
